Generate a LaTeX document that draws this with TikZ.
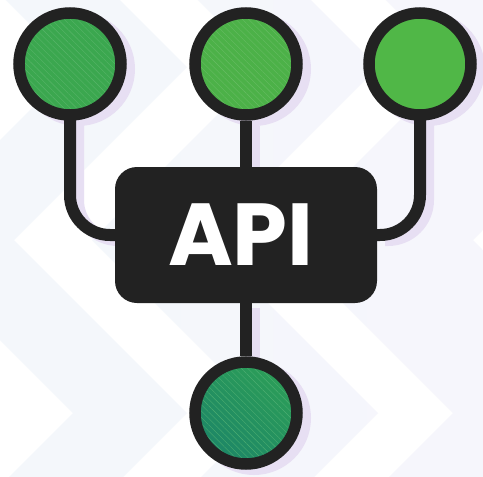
\documentclass[tikz,border=0pt]{standalone}
\usepackage{fontspec}
\newfontfamily\apifont{Poppins}
\usetikzlibrary{positioning,patterns.meta}

\definecolor{wirecol}{HTML}{222222}
\definecolor{shadowcol}{HTML}{E7DFF3}
\definecolor{bgblue}{HTML}{F3F7FB}
\definecolor{bglav}{HTML}{F7F6FC}
\definecolor{greenA}{HTML}{3BA74F}
\definecolor{greenB}{HTML}{4CB148}
\definecolor{greenC}{HTML}{50B747}
\definecolor{greenDtop}{HTML}{2C9E58}
\definecolor{greenDbot}{HTML}{1D8667}

\pgfdeclarelayer{backdrop}
\pgfdeclarelayer{shade}
\pgfdeclarelayer{wires}
\pgfsetlayers{backdrop,shade,wires,main}

\begin{document}
\begin{tikzpicture}[x=1pt, y=-1pt,
    endpoint/.style={circle, draw=wirecol, line width=11.5pt, minimum size=102pt, inner sep=0pt},
    hatch/.style={pattern={Lines[angle=-45, distance=4.5pt, line width=0.4pt]}, pattern color=#1!85!white},
    apibox/.style={rectangle, rounded corners=22pt, fill=wirecol, minimum width=262pt, minimum height=136pt,
        text=white, font=\apifont\bfseries\fontsize{88}{88}\selectfont},
    wire/.style={draw=wirecol, line width=12pt, rounded corners=40pt}]
    \useasboundingbox (0,0) rectangle (483,477);

    % Nodes
    \node[apibox] (api) at (246,235) {API\kern10pt};
    \node[endpoint, preaction={fill=greenA}, hatch=greenA] (nodeA) at (70,64) {};
    \node[endpoint, preaction={fill=greenB}, hatch=greenB] (nodeB) at (246,64) {};
    \node[endpoint, fill=greenC] (nodeC) at (420,64) {};
    \node[endpoint, preaction={shade, top color=greenDtop, bottom color=greenDbot, shading angle=-40}, hatch=greenDtop] (nodeD) at (246,413) {};

    % Wires
    \begin{pgfonlayer}{wires}
        \draw[wire] (nodeA.center) |- (api.west);
        \draw[wire] (nodeC.center) |- (api.east);
        \draw[wire] (nodeB) -- (api);
        \draw[wire] (api) -- (nodeD);
    \end{pgfonlayer}

    % Shadows
    \begin{pgfonlayer}{shade}
        \begin{scope}[transform canvas={xshift=8pt, yshift=-5pt}]
            \foreach \n in {nodeA,nodeB,nodeC,nodeD}
                \fill[shadowcol] (\n.center) circle (57);
            \draw[wire, draw=shadowcol] (nodeA.center) |- (api.west);
            \draw[wire, draw=shadowcol] (nodeC.center) |- (api.east);
            \draw[wire, draw=shadowcol] (nodeB) -- (api) -- (nodeD);
        \end{scope}
    \end{pgfonlayer}

    % Background chevrons
    \begin{pgfonlayer}{backdrop}
        \fill[white] (0,0) rectangle (483,477);
        \shade[left color=bgblue, right color=bglav]
            \foreach \a/\b in {73/187, 265/378, 453/646} {
                (\a-87,-20) -- (\a,67) -- (\a-173,240) -- (\a,413) -- (\a-87,500)
                -- (\b-87,500) -- (\b,413) -- (\b-173,240) -- (\b,67) -- (\b-87,-20) -- cycle
            };
    \end{pgfonlayer}
\end{tikzpicture}
\end{document}
